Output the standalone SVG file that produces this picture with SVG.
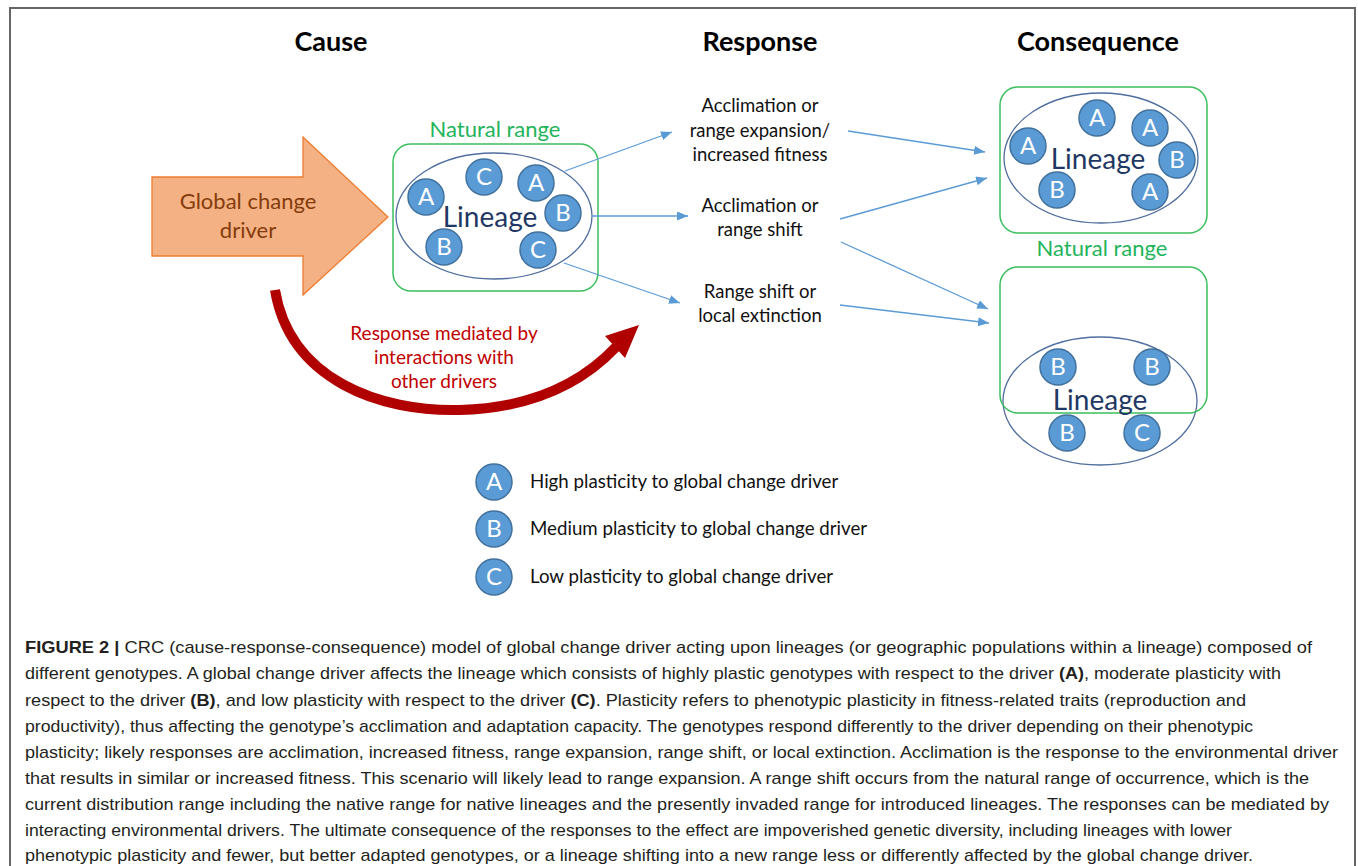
<svg xmlns="http://www.w3.org/2000/svg" width="1358" height="866" viewBox="0 0 1358 866">
<style>
.title{font-family:Lato,"Open Sans",sans-serif;font-weight:bold;font-size:27px;fill:#000;text-anchor:middle}
.resp{font-family:Lato,"Open Sans",sans-serif;font-size:18.5px;fill:#111;text-anchor:middle}
.nat{font-family:Lato,"Open Sans",sans-serif;font-size:22px;fill:#22B45A;text-anchor:middle}
.range{fill:none;stroke:#3CBF5E;stroke-width:1.5}
.lin{fill:none;stroke:#4F6E9E;stroke-width:1.3}
.lintxt{font-family:Lato,"Open Sans",sans-serif;font-size:28px;fill:#1F3864;text-anchor:middle}
.g circle{fill:#5B9BD5;stroke:#41719C;stroke-width:1.5}
.g text{font-family:Lato,"Open Sans",sans-serif;font-size:24px;fill:#fff;text-anchor:middle}
.leg{font-family:Lato,"Open Sans",sans-serif;font-size:18.7px;fill:#111}
.red{font-family:Lato,"Open Sans",sans-serif;font-size:19px;fill:#C00000;text-anchor:middle}
.conn line{stroke:#5B9BD5;stroke-width:1.3;marker-end:url(#ah)}
.cap{font-family:"Liberation Sans Narrow","Liberation Sans",sans-serif;font-size:17px;fill:#231F20}
.cap tspan.b{font-weight:bold}
</style>
<defs>
<marker id="ah" markerUnits="userSpaceOnUse" markerWidth="12" markerHeight="10" refX="11" refY="4.5" orient="auto">
<path d="M0,0 L11,4.5 L0,9 Z" fill="#5B9BD5"/>
</marker>
</defs>
<rect width="1358" height="866" fill="#fff"/>
<g id="frame" fill="none" stroke="#666" stroke-width="2">
<path d="M10,866 V8 H1355 V866"/>
</g>
<g id="titles">
<text class="title" x="331" y="51">Cause</text>
<text class="title" x="760" y="51">Response</text>
<text class="title" x="1098" y="51">Consequence</text>
</g>
<g id="driver">
<path d="M152,177 H303 V137 L388,217 L303,295 V256 H152 Z" fill="#F4B183" stroke="#ED7D31" stroke-width="1.3"/>
<text class="resp" style="font-size:22px;fill:#843C0C" x="248" y="209">Global change</text>
<text class="resp" style="font-size:22px;fill:#843C0C" x="248" y="238">driver</text>
</g>
<g id="natural-range">
<text class="nat" x="495" y="137">Natural range</text>
<rect class="range" x="393" y="144" width="205" height="147" rx="18"/>
<ellipse class="lin" cx="494" cy="216" rx="98" ry="63"/>
<text class="lintxt" x="490" y="227">Lineage</text>
<g class="g">
<circle cx="426" cy="197" r="18"/><text x="426" y="205">A</text>
<circle cx="484" cy="177" r="18"/><text x="484" y="185">C</text>
<circle cx="536" cy="183" r="18"/><text x="536" y="191">A</text>
<circle cx="563" cy="213" r="18"/><text x="563" y="221">B</text>
<circle cx="444" cy="247" r="18"/><text x="444" y="255">B</text>
<circle cx="538" cy="250" r="18"/><text x="538" y="258">C</text>
</g>
</g>
<g id="resp1">
<text class="resp" x="760" y="112">Acclimation or</text>
<text class="resp" x="760" y="137">range expansion/</text>
<text class="resp" x="760" y="161">increased fitness</text>
</g>
<g id="resp2">
<text class="resp" x="760" y="212">Acclimation or</text>
<text class="resp" x="760" y="236">range shift</text>
</g>
<g id="resp3">
<text class="resp" x="760" y="298">Range shift or</text>
<text class="resp" x="760" y="322">local extinction</text>
</g>
<g id="consequence-expansion">
<rect class="range" x="1000" y="87" width="207" height="146" rx="18"/>
<ellipse class="lin" cx="1101" cy="158" rx="97" ry="65"/>
<text class="lintxt" x="1098" y="169">Lineage</text>
<g class="g">
<circle cx="1097" cy="118" r="18"/><text x="1097" y="126">A</text>
<circle cx="1150" cy="128" r="18"/><text x="1150" y="136">A</text>
<circle cx="1028" cy="146" r="18"/><text x="1028" y="154">A</text>
<circle cx="1177" cy="160" r="18"/><text x="1177" y="168">B</text>
<circle cx="1057" cy="190" r="18"/><text x="1057" y="198">B</text>
<circle cx="1150" cy="192" r="18"/><text x="1150" y="200">A</text>
</g>
</g>
<g id="consequence-shift">
<text class="nat" x="1102" y="256">Natural range</text>
<ellipse class="lin" cx="1100" cy="401" rx="97" ry="64"/>
<rect class="range" x="1000" y="267" width="207" height="146" rx="18"/>
<text class="lintxt" x="1100" y="410">Lineage</text>
<g class="g">
<circle cx="1058" cy="367" r="18"/><text x="1058" y="375">B</text>
<circle cx="1152" cy="367" r="18"/><text x="1152" y="375">B</text>
<circle cx="1067" cy="433" r="18"/><text x="1067" y="441">B</text>
<circle cx="1142" cy="433" r="18"/><text x="1142" y="441">C</text>
</g>
</g>
<g id="interaction">
<path d="M275,290 C290,380 380,412 460,410 C530,408 580,385 616,347" fill="none" stroke="#B00000" stroke-width="10"/>
<polygon points="639,325 625,358 605,336" fill="#B00000"/>
<text class="red" x="444" y="340">Response mediated by</text>
<text class="red" x="444" y="364">interactions with</text>
<text class="red" x="444" y="388">other drivers</text>
</g>
<g id="legend">
<g class="g">
<circle cx="494" cy="482" r="18"/><text x="494" y="490">A</text>
<circle cx="494" cy="529" r="18"/><text x="494" y="537">B</text>
<circle cx="494" cy="577" r="18"/><text x="494" y="585">C</text>
</g>
<text class="leg" x="530" y="488">High plasticity to global change driver</text>
<text class="leg" x="530" y="535">Medium plasticity to global change driver</text>
<text class="leg" x="530" y="583">Low plasticity to global change driver</text>
</g>
<g id="connectors" class="conn">
<line x1="565" y1="171" x2="672" y2="132"/>
<line x1="592" y1="216" x2="688" y2="216"/>
<line x1="564" y1="263" x2="680" y2="303"/>
<line x1="848" y1="131" x2="985" y2="152"/>
<line x1="840" y1="219" x2="987" y2="178"/>
<line x1="841" y1="242" x2="988" y2="309"/>
<line x1="840" y1="305" x2="989" y2="323"/>
</g>
<g id="caption">
<text class="cap" x="25" y="653" textLength="1287" lengthAdjust="spacingAndGlyphs"><tspan class="b">FIGURE 2 |</tspan> CRC (cause-response-consequence) model of global change driver acting upon lineages (or geographic populations within a lineage) composed of</text>
<text class="cap" x="25" y="679" textLength="1256" lengthAdjust="spacingAndGlyphs">different genotypes. A global change driver affects the lineage which consists of highly plastic genotypes with respect to the driver <tspan class="b">(A)</tspan>, moderate plasticity with</text>
<text class="cap" x="25" y="706" textLength="1221" lengthAdjust="spacingAndGlyphs">respect to the driver <tspan class="b">(B)</tspan>, and low plasticity with respect to the driver <tspan class="b">(C)</tspan>. Plasticity refers to phenotypic plasticity in fitness-related traits (reproduction and</text>
<text class="cap" x="25" y="732" textLength="1228" lengthAdjust="spacingAndGlyphs">productivity), thus affecting the genotype’s acclimation and adaptation capacity. The genotypes respond differently to the driver depending on their phenotypic</text>
<text class="cap" x="25" y="758" textLength="1313" lengthAdjust="spacingAndGlyphs">plasticity; likely responses are acclimation, increased fitness, range expansion, range shift, or local extinction. Acclimation is the response to the environmental driver</text>
<text class="cap" x="25" y="784" textLength="1284" lengthAdjust="spacingAndGlyphs">that results in similar or increased fitness. This scenario will likely lead to range expansion. A range shift occurs from the natural range of occurrence, which is the</text>
<text class="cap" x="25" y="810" textLength="1304" lengthAdjust="spacingAndGlyphs">current distribution range including the native range for native lineages and the presently invaded range for introduced lineages. The responses can be mediated by</text>
<text class="cap" x="25" y="836" textLength="1207" lengthAdjust="spacingAndGlyphs">interacting environmental drivers. The ultimate consequence of the responses to the effect are impoverished genetic diversity, including lineages with lower</text>
<text class="cap" x="25" y="861" textLength="1228" lengthAdjust="spacingAndGlyphs">phenotypic plasticity and fewer, but better adapted genotypes, or a lineage shifting into a new range less or differently affected by the global change driver.</text>
</g>
</svg>
